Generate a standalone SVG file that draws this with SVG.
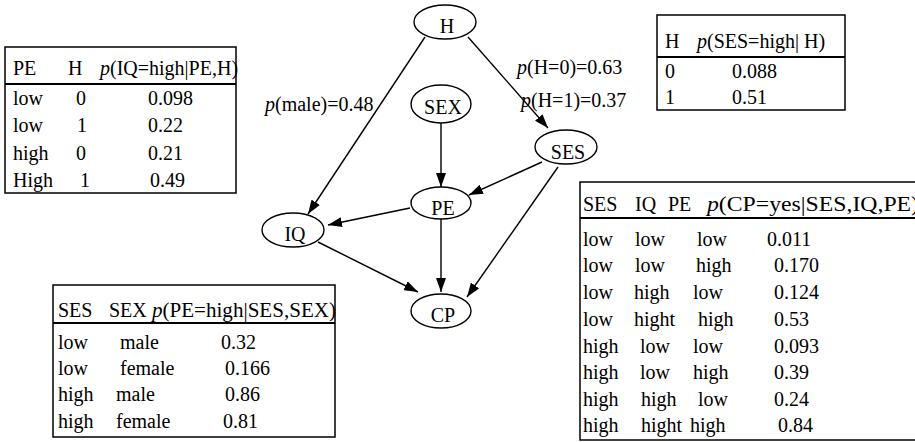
<svg xmlns="http://www.w3.org/2000/svg" width="915" height="442" viewBox="0 0 915 442">
<style>
text { font-family: "Liberation Serif", "Times New Roman", serif; font-size: 20px; fill: #000; }
.lbl { text-anchor: middle; }
.node ellipse { fill: #fff; stroke: #000; stroke-width: 1.4; }
.edge { stroke: #000; stroke-width: 1.4; fill: none; marker-end: url(#arr); }
.tbl rect { fill: #fff; stroke: #000; stroke-width: 1.5; }
.tbl line { stroke: #000; stroke-width: 2; }
.it { font-style: italic; }
</style>
<defs>
<marker id="arr" viewBox="0 0 14 10" refX="14" refY="5" markerWidth="14" markerHeight="10" markerUnits="userSpaceOnUse" orient="auto">
<path d="M0,0 L14,5 L0,10 z" fill="#000"/>
</marker>
</defs>
<rect width="915" height="442" fill="#fff"/>

<g id="connectors">
<line class="edge" x1="425" y1="37" x2="308" y2="214"/>
<line class="edge" x1="468" y1="37" x2="548" y2="128"/>
<line class="edge" x1="441" y1="123" x2="441" y2="187"/>
<line class="edge" x1="542" y1="162" x2="469" y2="195"/>
<line class="edge" x1="558" y1="167" x2="467" y2="297"/>
<line class="edge" x1="410" y1="208" x2="328" y2="225"/>
<line class="edge" x1="441" y1="219" x2="441" y2="292"/>
<line class="edge" x1="318" y1="242" x2="418" y2="292"/>
</g>

<g id="edge-labels">
<text x="265" y="111"><tspan class="it">p</tspan>(male)=0.48</text>
<text x="517" y="74"><tspan class="it">p</tspan>(H=0)=0.63</text>
<text x="521" y="107"><tspan class="it">p</tspan>(H=1)=0.37</text>
</g>

<g id="node-H" class="node"><ellipse cx="445" cy="22" rx="31" ry="17"/><text class="lbl" x="447" y="33">H</text></g>
<g id="node-SEX" class="node"><ellipse cx="441" cy="104" rx="30" ry="19"/><text class="lbl" x="443" y="114">SEX</text></g>
<g id="node-SES" class="node"><ellipse cx="566" cy="147" rx="31" ry="17"/><text class="lbl" x="568" y="159">SES</text></g>
<g id="node-PE" class="node"><ellipse cx="441" cy="203" rx="30" ry="16"/><text class="lbl" x="443" y="215">PE</text></g>
<g id="node-IQ" class="node"><ellipse cx="293" cy="230" rx="31" ry="17"/><text class="lbl" x="295" y="241">IQ</text></g>
<g id="node-CP" class="node"><ellipse cx="441" cy="311" rx="30" ry="17"/><text class="lbl" x="443" y="322">CP</text></g>

<g id="table-IQ" class="tbl">
<rect x="5" y="47" width="231" height="146"/>
<line x1="5" y1="84" x2="236" y2="84"/>
<text x="13" y="75">PE</text><text x="68" y="75">H</text><text x="100" y="75"><tspan class="it">p</tspan>(IQ=high|PE,H)</text>
<text x="13" y="105">low</text><text x="76" y="105">0</text><text x="148" y="105">0.098</text>
<text x="13" y="132">low</text><text x="77" y="132">1</text><text x="148" y="132">0.22</text>
<text x="13" y="160">high</text><text x="76" y="160">0</text><text x="148" y="160">0.21</text>
<text x="13" y="187">High</text><text x="80" y="187">1</text><text x="150" y="187">0.49</text>
</g>

<g id="table-SES" class="tbl">
<rect x="657" y="15" width="188" height="95"/>
<line x1="657" y1="57" x2="845" y2="57"/>
<text x="665" y="48">H</text><text x="697" y="48"><tspan class="it">p</tspan>(SES=high| H)</text>
<text x="665" y="78">0</text><text x="732" y="78">0.088</text>
<text x="665" y="104">1</text><text x="732" y="104">0.51</text>
</g>

<g id="table-PE" class="tbl">
<rect x="53" y="285" width="282" height="152"/>
<line x1="53" y1="323" x2="335" y2="323"/>
<text x="58" y="317">SES</text><text x="109" y="317">SEX</text><text x="152" y="317" textLength="184" lengthAdjust="spacingAndGlyphs"><tspan class="it">p</tspan>(PE=high|SES,SEX)</text>
<text x="58" y="349">low</text><text x="120" y="349">male</text><text x="221" y="349">0.32</text>
<text x="58" y="375">low</text><text x="120" y="375">female</text><text x="225" y="375">0.166</text>
<text x="58" y="401">high</text><text x="116" y="401">male</text><text x="225" y="401">0.86</text>
<text x="58" y="428">high</text><text x="116" y="428">female</text><text x="223" y="428">0.81</text>
</g>

<g id="table-CP" class="tbl">
<rect x="580" y="182" width="350" height="258"/>
<line x1="580" y1="218" x2="930" y2="218"/>
<text x="583" y="211">SES</text><text x="635" y="211">IQ</text><text x="668" y="211">PE</text><text x="707" y="211" textLength="212" lengthAdjust="spacingAndGlyphs"><tspan class="it">p</tspan>(CP=yes|SES,IQ,PE)</text>
<text x="583" y="246">low</text><text x="635" y="246">low</text><text x="697" y="246">low</text><text x="767" y="246">0.011</text>
<text x="583" y="272">low</text><text x="635" y="272">low</text><text x="696" y="272">high</text><text x="774" y="272">0.170</text>
<text x="583" y="299">low</text><text x="634" y="299">high</text><text x="693" y="299">low</text><text x="774" y="299">0.124</text>
<text x="583" y="326">low</text><text x="634" y="326">hight</text><text x="698" y="326">high</text><text x="774" y="326">0.53</text>
<text x="583" y="353">high</text><text x="640" y="353">low</text><text x="693" y="353">low</text><text x="774" y="353">0.093</text>
<text x="583" y="379">high</text><text x="640" y="379">low</text><text x="693" y="379">high</text><text x="774" y="379">0.39</text>
<text x="583" y="406">high</text><text x="641" y="406">high</text><text x="698" y="406">low</text><text x="774" y="406">0.24</text>
<text x="583" y="432">high</text><text x="641" y="432">hight</text><text x="690" y="432">high</text><text x="778" y="432">0.84</text>
</g>
</svg>
